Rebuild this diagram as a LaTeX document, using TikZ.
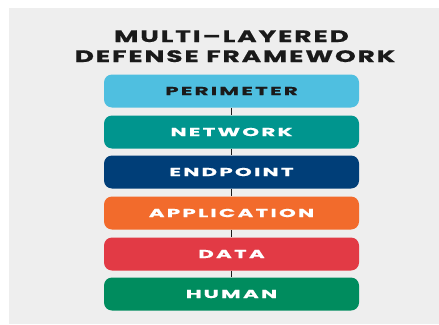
\documentclass[tikz,border=0pt]{standalone}
\usepackage{fontspec}
\setmainfont{Poppins}
\newfontfamily\layerfont[FakeStretch=1.85,FakeBold=0.6,LetterSpace=19]{Poppins Bold}
\newfontfamily\titlefont[FakeStretch=1.6,FakeBold=0.8,LetterSpace=11.5]{Poppins Bold}
\definecolor{panelgrey}{HTML}{EEEEEE}
\definecolor{inkdark}{HTML}{1A1A1A}
\definecolor{cPerimeter}{HTML}{4FBFE0}
\definecolor{cNetwork}{HTML}{00958E}
\definecolor{cEndpoint}{HTML}{003E78}
\definecolor{cApplication}{HTML}{F26B2C}
\definecolor{cData}{HTML}{E23A45}
\definecolor{cHuman}{HTML}{008C5E}
\begin{document}
\begin{tikzpicture}[x=1pt,y=-1pt,
  layer/.style={rounded corners=8pt, minimum width=255pt, minimum height=33pt,
    inner sep=0pt, text=white, font=\layerfont\fontsize{11.6}{14}\selectfont},
  titleline/.style={anchor=base, inner sep=0pt, text=inkdark,
    font=\titlefont\fontsize{16.5}{20}\selectfont},
  link/.style={draw=inkdark, line width=1.4pt}]
  \useasboundingbox (0,0) rectangle (439,324);
  \fill[white] (0,0) rectangle (439,324);
  \fill[panelgrey] (9,8) rectangle (439,324);
  % title, two lines
  \node[titleline] (titletop)    at (231.5,42) {MULTI–LAYERED};
  \node[titleline] (titlebottom) at (235,62) {DEFENSE FRAMEWORK};
  % layers
  \node[layer, fill=cPerimeter, text=inkdark] (perimeter)   at (231.5,91)  {PERIMETER};
  \node[layer, fill=cNetwork]                 (network)     at (231.5,132) {NETWORK};
  \node[layer, fill=cEndpoint]                (endpoint)    at (231.5,172) {ENDPOINT};
  \node[layer, fill=cApplication]             (application) at (231.5,213) {APPLICATION};
  \node[layer, fill=cData]                    (data)        at (231.5,254) {DATA};
  \node[layer, fill=cHuman]                   (human)       at (231.5,294) {HUMAN};
  % connectors
  \draw[link] (perimeter.south) -- (network.north);
  \draw[link] (network.south) -- (endpoint.north);
  \draw[link] (endpoint.south) -- (application.north);
  \draw[link] (application.south) -- (data.north);
  \draw[link] (data.south) -- (human.north);
\end{tikzpicture}
\end{document}
